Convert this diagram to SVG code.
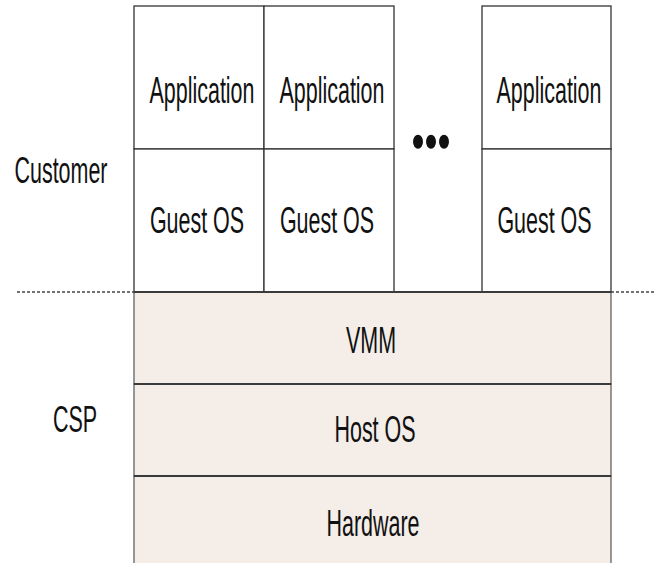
<svg xmlns="http://www.w3.org/2000/svg" width="655" height="563" viewBox="0 0 655 563">
  <style>
    .box { fill: #ffffff; stroke: #333333; stroke-width: 1.3; }
    .band { fill: #f4ede8; stroke: #555555; stroke-width: 1.2; }
    .sep { stroke: #3a3a3a; stroke-width: 2; fill: none; }
    .dash { stroke: #444444; stroke-width: 1.3; stroke-dasharray: 3 2; fill: none; }
    .lbl { font-family: "Liberation Sans", Arial, sans-serif; font-size: 37px; fill: #111111; text-anchor: middle; }
    .dot { fill: #111111; }
  </style>
  <rect width="655" height="563" fill="#ffffff"/>

  <g id="csp-layers">
    <g id="vmm">
      <rect class="band" x="134" y="292" width="477" height="92"/>
      <text class="lbl" transform="translate(371,353) scale(0.58,1)">VMM</text>
    </g>
    <g id="host-os">
      <rect class="band" x="134" y="384" width="477" height="92"/>
      <text class="lbl" transform="translate(375,441.5) scale(0.58,1)">Host OS</text>
    </g>
    <g id="hardware">
      <rect class="band" x="134" y="476" width="477" height="92"/>
      <text class="lbl" transform="translate(373,536) scale(0.58,1)">Hardware</text>
    </g>
    <line class="sep" x1="134" y1="384" x2="611" y2="384"/>
    <line class="sep" x1="134" y1="476" x2="611" y2="476"/>
  </g>

  <g id="vm1">
    <g id="vm1-app">
      <rect class="box" x="134" y="6" width="130" height="143"/>
      <text class="lbl" transform="translate(202,102.5) scale(0.58,1)">Application</text>
    </g>
    <g id="vm1-guest">
      <rect class="box" x="134" y="149" width="130" height="143"/>
      <text class="lbl" transform="translate(197,232.5) scale(0.58,1)">Guest OS</text>
    </g>
  </g>

  <g id="vm2">
    <g id="vm2-app">
      <rect class="box" x="264" y="6" width="130" height="143"/>
      <text class="lbl" transform="translate(332,102.5) scale(0.58,1)">Application</text>
    </g>
    <g id="vm2-guest">
      <rect class="box" x="264" y="149" width="130" height="143"/>
      <text class="lbl" transform="translate(327,232.5) scale(0.58,1)">Guest OS</text>
    </g>
  </g>

  <g id="ellipsis">
    <ellipse class="dot" cx="418" cy="141.7" rx="5" ry="7"/>
    <ellipse class="dot" cx="431" cy="141.7" rx="5" ry="7"/>
    <ellipse class="dot" cx="444" cy="141.7" rx="5" ry="7"/>
  </g>

  <g id="vm3">
    <g id="vm3-app">
      <rect class="box" x="482" y="6" width="129" height="143"/>
      <text class="lbl" transform="translate(549,102.5) scale(0.58,1)">Application</text>
    </g>
    <g id="vm3-guest">
      <rect class="box" x="482" y="149" width="129" height="143"/>
      <text class="lbl" transform="translate(544.5,232.5) scale(0.58,1)">Guest OS</text>
    </g>
  </g>

  <g id="connectors">
    <line class="sep" x1="134" y1="292" x2="611" y2="292"/>
    <line class="dash" x1="17" y1="292" x2="134" y2="292"/>
    <line class="dash" x1="611" y1="292" x2="655" y2="292"/>
  </g>

  <g id="customer-label">
    <text class="lbl" transform="translate(61,183) scale(0.58,1)">Customer</text>
  </g>
  <g id="csp-label">
    <text class="lbl" transform="translate(75,431.5) scale(0.58,1)">CSP</text>
  </g>
</svg>
